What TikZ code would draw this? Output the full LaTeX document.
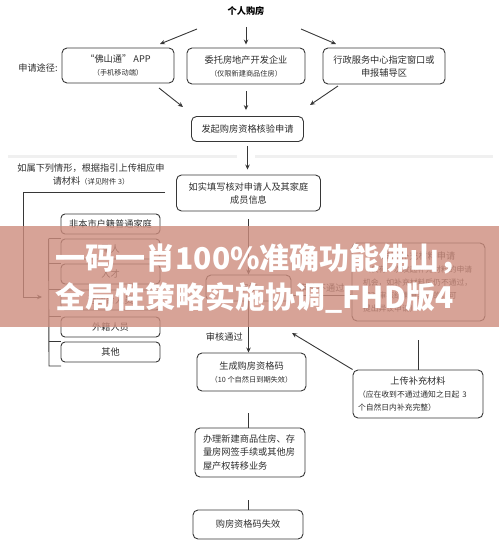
\documentclass[tikz,border=0pt]{standalone}
\usepackage{fontspec}
\setmainfont{Noto Sans CJK SC}
\usetikzlibrary{arrows.meta}
\definecolor{ink}{RGB}{45,45,45}
\definecolor{edge}{RGB}{55,55,55}
\definecolor{bannerred}{RGB}{205,140,125}
\newcommand{\mainsz}{\fontsize{9.2}{13}\selectfont}
\newcommand{\subsz}{\fontsize{7.2}{13}\selectfont}
\newcommand{\notesz}{\fontsize{7.8}{13}\selectfont}

\begin{document}
\begin{tikzpicture}[x=1pt, y=-1pt, >={Stealth[length=5pt, width=4.5pt]}, font=\mainsz, text=ink,
  box/.style={draw=edge, line width=0.9pt, rounded corners=5pt, inner sep=2pt, align=center},
  flow/.style={->, draw=edge, line width=0.9pt},
  link/.style={draw=edge, line width=0.9pt}]
  \useasboundingbox (0,0) rectangle (499,555);
  % seam in the scan
  \fill[black!6] (8,155) rectangle (237,158);
  \fill[black!6] (255,155) rectangle (493,158);
  % routes
  \node[font=\mainsz\bfseries, text=black] (buy) at (246,11) {个人购房};
  \node (route) at (38,68) {申请途径:};
  \node[box, minimum width=112pt, minimum height=35pt] (app) at (118,65.5) {“佛山通” APP\\{\subsz（手机移动端）}};
  \node[box, minimum width=118pt, minimum height=36pt] (dev) at (246,66) {委托房地产开发企业\\{\subsz（仅限新建商品住房）}};
  \node[box, minimum width=122pt, minimum height=36pt] (win) at (384,66) {行政服务中心指定窗口或\\申报辅导区};
  \coordinate (buy-l) at (197,29);
  \coordinate (app-in) at (160,44);
  \coordinate (buy-r) at (301,29);
  \coordinate (win-in) at (336,44);
  \draw[flow] (buy-l) -- (app-in);
  \draw[flow, shorten <=8pt, shorten >=3pt] (buy.south) -- (buy.south |- dev.north);
  \draw[flow] (buy-r) -- (win-in);
  % apply
  \node[box, minimum width=112pt, minimum height=25pt] (apply) at (247.5,129) {发起购房资格核验申请};
  \coordinate (app-out) at (159,88);
  \coordinate (apply-l) at (183,107);
  \coordinate (win-out) at (338,86);
  \coordinate (apply-r) at (310,105);
  \draw[flow] (app-out) -- (apply-l);
  \draw[flow, shorten <=7pt, shorten >=6pt] (dev.south) -- (dev.south |- apply.north);
  \draw[flow] (win-out) -- (apply-r);
  \node[box, minimum width=144pt, minimum height=36pt] (fill) at (248.5,193) {如实填写核对申请人及其家庭\\成员信息};
  \draw[flow, shorten <=4pt, shorten >=5pt] (apply.south) -- (apply.south |- fill.north);
  % materials
  \node[align=center] (cases) at (91,174) {如属下列情形，根据指引上传相应申\\请材料{\subsz（详见附件 3）}};
  \foreach \y/\txt [count=\i] in {224/非本市户籍普通家庭, 249/军人, 274/人才, 300/港澳台人员, 327/外籍人员, 352/其他}
    \node[box, rounded corners=4pt, minimum width=99pt, minimum height=20pt] (grp\i) at (110.5,\y) {\txt};
  \draw[link] (grp2.north west) -- ++(-12,0) coordinate (rail-top);
  \coordinate (rail-end) at (49,366);
  \draw[link] (rail-top) -- (rail-end) -- ++(12,0);
  \foreach \i in {3,...,6}
    \draw[link] (grp\i.north west) -- (grp\i.north west -| rail-top);
  \coordinate (cases-r) at (165,192);
  \coordinate (grp-in) at (42,297);
  \draw[flow] (cases-r) -- ++(-142,0) |- (grp-in);
  % review
  \node[box, minimum width=85pt, minimum height=26pt] (review) at (248.5,288) {审核};
  \draw[flow, shorten <=8pt] (fill.south) -- (fill.south |- review.north);
  \node[box, minimum width=133pt, minimum height=78pt, text width=111pt, align=left] (supp) at (418.5,282)
    {\makebox[\linewidth]{发起补充材料申请}\\\notesz（仅有一次发起补充材料的申请\\机会，如补充材料后仍不通过，\\如对审核结果有异议的，可\\提出异议申请）};
  \draw[flow] ([yshift=-7pt]review.east) -- ([yshift=-7pt]review.east -| supp.west) node[midway, above=-1pt] {审核不通过};
  \node[box, minimum width=109pt, minimum height=38pt] (gen) at (251.5,372) {生成购房资格码\\{\subsz（10 个自然日到期失效）}};
  \draw[flow] (review.south) -- (review.south |- gen.north) node[pos=0.7, left=2pt] {审核通过};
  \node[box, minimum width=130pt, minimum height=48pt, text width=120pt, align=left] (upload) at (418,394)
    {\makebox[\linewidth]{上传补充材料}\\\notesz（应在收到不通过通知之日起 3\\个自然日内补充完整）};
  \draw[link, shorten <=19pt] (supp.south) -- (supp.south |- upload.north);
  \coordinate (back-tip) at (292,333);
  \draw[flow] (upload.north west) -- (back-tip);
  % handling
  \node[box, minimum width=110pt, minimum height=49pt, text width=94pt, align=left, font=\fontsize{9.2}{13.5}\selectfont] (handle) at (250,452.5)
    {办理新建商品住房、存\\量房网签手续或其他房\\屋产权转移业务};
  \node[box, minimum width=110pt, minimum height=29pt] (void) at (248,524.5) {购房资格码失效};
  \draw[link, shorten <=22pt] (review |- gen.south) -- (review |- handle.north);
  \draw[link, shorten <=23pt] (review |- handle.south) -- (review |- void.north);
  % banner
  \fill[bannerred, fill opacity=0.8] (0,226) rectangle (499,327);
  \node[anchor=west, align=left, text=white, font=\fontsize{30}{39}\selectfont\bfseries] (banner) at (52,278.5)
    {一码一肖100\%准确功能佛山，\\全局性策略实施协调\_FHD版4};
\end{tikzpicture}
\end{document}
